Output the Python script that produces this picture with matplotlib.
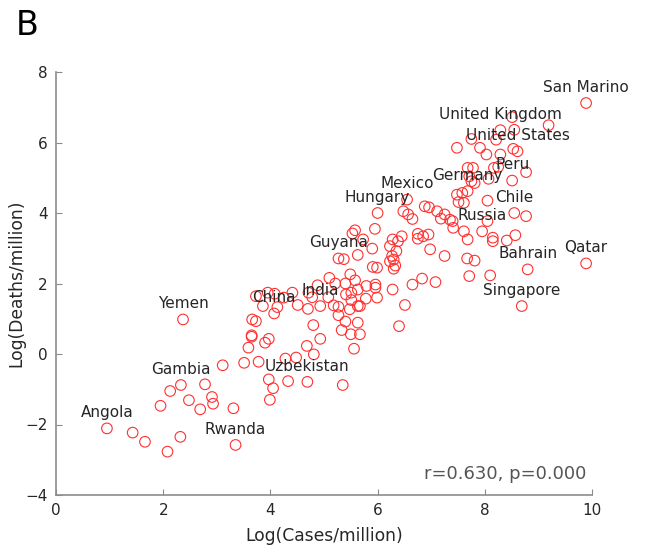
import matplotlib.pyplot as plt

# log(cases/million), log(deaths/million) per country
log_cases = [
    9.89, 8.51, 9.19, 8.29, 8.55, 8.21, 7.75, 7.48, 7.91, 8.03, 8.29, 8.53, 8.61,
    7.68, 7.78, 8.17, 8.25, 8.77, 7.71, 7.81, 8.07, 8.51, 7.48, 7.58, 7.68, 7.51,
    7.61, 8.05, 8.55, 8.77, 8.05, 7.41, 7.61, 7.95, 7.68, 8.15, 8.15, 8.41, 8.57,
    7.67, 7.81, 8.80, 9.89, 7.71, 8.10, 8.69, 7.75,
    6.55, 6.00, 6.48, 6.57, 6.65, 6.88, 6.96, 7.11, 7.25, 7.18, 7.35, 7.40, 5.95,
    5.58, 5.53, 5.73, 5.90, 5.63, 5.27, 5.37, 5.91, 5.99, 6.28, 6.45, 6.38, 6.23,
    6.35, 6.27, 6.30, 6.23, 6.33, 6.30, 6.75, 6.85, 6.95, 6.75, 6.98, 7.25, 6.28,
    6.65, 6.83, 7.08, 6.51, 6.40,
    5.49, 5.58, 5.10, 5.21, 5.40, 5.63, 5.79, 5.96, 5.96, 5.99, 5.78, 5.51, 5.41,
    5.51, 5.63, 5.67, 5.48, 5.18, 5.27, 5.27, 5.40, 5.63, 5.33, 5.50, 5.67, 5.56,
    5.08, 4.93, 4.93, 4.80, 4.68, 4.81, 4.48, 4.28, 4.70, 4.78, 4.71, 4.88, 4.51,
    4.41, 4.25, 4.08, 3.86, 4.13, 4.07, 3.73, 3.95, 3.66, 3.73, 3.65, 3.65, 3.97,
    3.90, 3.59, 3.51, 3.78, 3.11, 2.37, 3.97, 4.05, 3.99, 4.33, 4.69, 5.35,
    2.33, 2.13, 2.78, 2.91, 2.93, 2.48, 2.69, 1.95, 3.31, 0.95, 1.43, 1.66, 2.08,
    2.32, 3.35,
]
log_deaths = [
    7.12, 6.72, 6.49, 6.35, 6.36, 6.08, 6.10, 5.85, 5.85, 5.66, 5.66, 5.82, 5.75,
    5.28, 5.28, 5.28, 5.31, 5.16, 5.04, 4.85, 4.97, 4.92, 4.52, 4.57, 4.62, 4.31,
    4.29, 4.35, 4.00, 3.91, 3.77, 3.58, 3.48, 3.48, 3.25, 3.30, 3.20, 3.22, 3.37,
    2.71, 2.65, 2.40, 2.57, 2.21, 2.23, 1.36, 4.90,
    4.38, 4.00, 4.05, 3.96, 3.83, 4.19, 4.16, 4.05, 3.96, 3.84, 3.81, 3.77, 3.55,
    3.51, 3.42, 3.25, 2.99, 2.81, 2.71, 2.69, 2.47, 2.45, 3.25, 3.34, 3.20, 3.06,
    2.92, 2.78, 2.68, 2.63, 2.51, 2.42, 3.41, 3.34, 3.39, 3.27, 2.97, 2.78, 1.83,
    1.97, 2.14, 2.04, 1.39, 0.79,
    2.26, 2.09, 2.16, 2.00, 2.00, 1.83, 1.93, 1.97, 1.88, 1.60, 1.57, 1.74, 1.69,
    1.53, 1.36, 1.36, 1.27, 1.38, 1.34, 1.10, 0.92, 0.89, 0.68, 0.56, 0.56, 0.15,
    1.61, 1.36, 0.43, 0.82, 0.23, -0.01, -0.10, -0.13, 1.28, 1.61, 1.74, 1.95, 1.39,
    1.74, 1.60, 1.71, 1.36, 1.33, 1.15, 1.64, 1.74, 0.98, 0.93, 0.53, 0.49, 0.43,
    0.32, 0.18, -0.25, -0.22, -0.32, 0.98, -0.72, -0.97, -1.30, -0.77, -0.79, -0.88,
    -0.88, -1.05, -0.86, -1.22, -1.41, -1.31, -1.57, -1.47, -1.54, -2.11, -2.23,
    -2.49, -2.77, -2.35, -2.58,
]

# labelled countries and their points
label_names = ['San Marino', 'United Kingdom', 'United States', 'Peru', 'Germany',
               'Mexico', 'Hungary', 'Chile', 'Russia', 'Guyana', 'Bahrain', 'Qatar',
               'Singapore', 'India', 'China', 'Yemen', 'Gambia', 'Uzbekistan',
               'Angola', 'Rwanda']
label_x = [9.89, 8.29, 8.61, 8.51, 7.68, 6.55, 6.00, 8.55, 7.95, 5.27, 8.80, 9.89,
           8.69, 4.93, 4.07, 2.37, 2.33, 4.69, 0.95, 3.35]
label_y = [7.12, 6.35, 5.75, 4.92, 4.62, 4.38, 4.00, 4.00, 3.48, 2.71, 2.40, 2.57,
           1.36, 1.36, 1.15, 0.98, -0.88, -0.79, -2.11, -2.58]

stats_text = 'r=0.630, p=0.000'

fig = plt.figure(figsize=(6.45, 5.5), dpi=100)
ax = fig.add_axes([56 / 645, 55 / 550, 536 / 645, 423 / 550])

ax.scatter(log_cases, log_deaths, s=58, facecolors='none', edgecolors='#ff3030',
           linewidths=0.8, zorder=2)

for name, x, y in zip(label_names, label_x, label_y):
    ax.annotate(name, (x, y), xytext=(0, 8), textcoords='offset points',
                ha='center', va='baseline', fontsize=11, color='#262626', zorder=3)

ax.text(9.9, -3.55, stats_text, ha='right', va='baseline', fontsize=13, color='#555555')

ax.set_xlim(0, 10)
ax.set_ylim(-4, 8)
ax.set_xticks([0, 2, 4, 6, 8, 10])
ax.set_yticks([-4, -2, 0, 2, 4, 6, 8])
ax.spines['top'].set_visible(False)
ax.spines['right'].set_visible(False)
for sp in ['left', 'bottom']:
    ax.spines[sp].set_color('#8c8c8c')
    ax.spines[sp].set_linewidth(1.2)
ax.tick_params(direction='in', length=4, color='#8c8c8c', labelsize=11,
               labelcolor='#262626', pad=6)

ax.set_xlabel('Log(Cases/million)', fontsize=12.3, color='#262626', labelpad=6)
ax.set_ylabel('Log(Deaths/million)', fontsize=12.3, color='#262626', labelpad=0)

fig.text(16 / 645, 1 - 35 / 550, 'B', fontsize=24, color='black')

fig.savefig('out.png', dpi=100)
